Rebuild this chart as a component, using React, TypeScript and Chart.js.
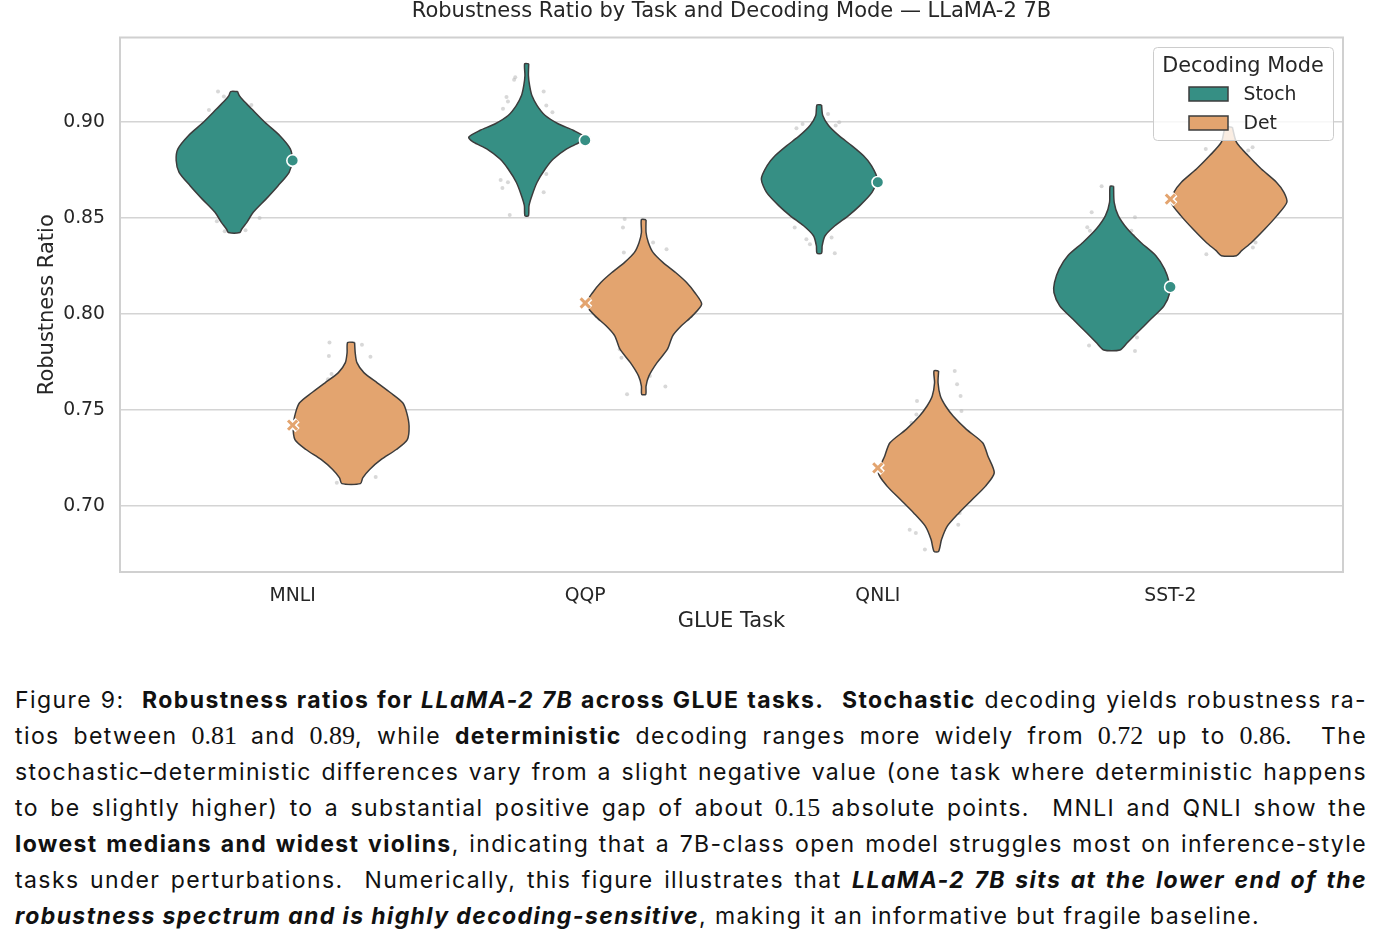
import React, { useEffect, useRef } from "react";
import { Chart, registerables } from "chart.js";

Chart.register(...registerables);

// ---------------- data ----------------
const tasks = ["MNLI", "QQP", "QNLI", "SST-2"];
const modes = ["Stoch", "Det"];
const yTicks = [0.7, 0.75, 0.8, 0.85, 0.9];

// violin density profiles: [value, relative density], top to bottom
const mnliStoch = [[0.916, 0.06], [0.9139, 0.09], [0.9113, 0.16], [0.907, 0.3], [0.9, 0.53], [0.893, 0.79], [0.8861, 0.97], [0.88, 1.0], [0.8739, 0.95], [0.8669, 0.76], [0.8599, 0.55], [0.853, 0.33], [0.8478, 0.22], [0.8442, 0.13], [0.8425, 0.1]];
const mnliDet = [[0.7851, 0.06], [0.7798, 0.07], [0.7746, 0.1], [0.7694, 0.22], [0.7641, 0.45], [0.7589, 0.68], [0.7537, 0.89], [0.7484, 0.96], [0.7415, 1.0], [0.7345, 0.97], [0.7293, 0.78], [0.7241, 0.52], [0.7189, 0.32], [0.7145, 0.2], [0.7115, 0.16]];
const qqpStoch = [[0.9305, 0.035], [0.9244, 0.03], [0.9192, 0.05], [0.9139, 0.09], [0.9087, 0.18], [0.9035, 0.32], [0.8991, 0.55], [0.8957, 0.81], [0.8922, 1.0], [0.8896, 0.92], [0.8861, 0.69], [0.8808, 0.46], [0.8756, 0.32], [0.8687, 0.18], [0.8617, 0.09], [0.8565, 0.04], [0.8512, 0.03]];
const qqpDet = [[0.8492, 0.04], [0.8425, 0.04], [0.8373, 0.08], [0.8321, 0.16], [0.8269, 0.33], [0.8216, 0.55], [0.8164, 0.74], [0.8112, 0.88], [0.8051, 1.0], [0.799, 0.84], [0.7938, 0.65], [0.7886, 0.5], [0.7816, 0.41], [0.7746, 0.23], [0.7677, 0.09], [0.7624, 0.04], [0.7581, 0.035]];
const qnliStoch = [[0.909, 0.04], [0.9035, 0.06], [0.8983, 0.16], [0.893, 0.34], [0.8878, 0.56], [0.8826, 0.76], [0.8774, 0.9], [0.8704, 1.0], [0.8634, 0.91], [0.8565, 0.7], [0.8512, 0.5], [0.846, 0.27], [0.8408, 0.1], [0.8356, 0.05], [0.8317, 0.04]];
const qnliDet = [[0.7703, 0.04], [0.7641, 0.03], [0.7572, 0.07], [0.752, 0.16], [0.7468, 0.29], [0.7398, 0.52], [0.7328, 0.8], [0.7259, 0.89], [0.7171, 1.0], [0.7102, 0.85], [0.7032, 0.62], [0.6962, 0.39], [0.6893, 0.19], [0.6823, 0.09], [0.6762, 0.04]];
const sst2Stoch = [[0.8666, 0.03], [0.8582, 0.04], [0.8513, 0.11], [0.8443, 0.27], [0.8373, 0.5], [0.8304, 0.76], [0.8234, 0.91], [0.8164, 0.99], [0.8112, 1.0], [0.8042, 0.9], [0.7972, 0.67], [0.7903, 0.44], [0.7851, 0.27], [0.7812, 0.14]];
const sst2Det = [[0.8974, 0.06], [0.8896, 0.13], [0.8826, 0.33], [0.8756, 0.56], [0.8687, 0.82], [0.8634, 0.95], [0.8582, 1.0], [0.8513, 0.83], [0.8443, 0.62], [0.8373, 0.39], [0.833, 0.22], [0.8304, 0.13]];

const stochProfiles = [mnliStoch, qqpStoch, qnliStoch, sst2Stoch];
const detProfiles = [mnliDet, qqpDet, qnliDet, sst2Det];

// means (marker per task)
const meanStoch = [0.88, 0.8906, 0.8687, 0.8141];
const meanDet = [0.742, 0.8057, 0.7197, 0.8599];

// jittered sample points [x, value]
const stripStoch = [
  [-0.255, 0.916], [-0.235, 0.9134], [-0.286, 0.9064], [-0.141, 0.909], [-0.113, 0.85], [-0.259, 0.8483], [-0.232, 0.8431], [-0.161, 0.8437],
  [0.761, 0.9235], [0.757, 0.9221], [0.731, 0.9131], [0.736, 0.9108], [0.719, 0.907], [0.867, 0.9087], [0.858, 0.916], [0.888, 0.9052], [0.711, 0.8699], [0.717, 0.8657], [0.736, 0.8687], [0.858, 0.8635], [0.742, 0.8516], [0.867, 0.873],
  [1.722, 0.8969], [1.743, 0.8991], [1.716, 0.8904], [1.83, 0.9043], [1.856, 0.8983], [1.868, 0.9], [1.716, 0.8451], [1.756, 0.839], [1.768, 0.8364], [1.842, 0.8399], [1.853, 0.8317],
  [2.765, 0.8666], [2.731, 0.853], [2.716, 0.8452], [2.725, 0.8434], [2.879, 0.8504], [2.867, 0.8434], [2.873, 0.8408], [2.886, 0.7877], [2.879, 0.7807], [2.722, 0.7836],
];
const stripDet = [
  [0.126, 0.7851], [0.237, 0.7839], [0.124, 0.7781], [0.266, 0.7777], [0.133, 0.7687], [0.121, 0.7659], [0.151, 0.7119], [0.284, 0.7149],
  [1.135, 0.8495], [1.129, 0.8451], [1.132, 0.8321], [1.232, 0.8373], [1.278, 0.8338], [1.118, 0.7816], [1.124, 0.7772], [1.249, 0.7772], [1.221, 0.7677], [1.274, 0.7621], [1.143, 0.7581],
  [2.263, 0.7703], [2.271, 0.7633], [2.283, 0.7572], [2.134, 0.7546], [2.132, 0.7476], [2.115, 0.7433], [2.286, 0.7494], [2.28, 0.6962], [2.275, 0.6901], [2.109, 0.6875], [2.13, 0.6858], [2.161, 0.6771],
  [3.121, 0.8861], [3.266, 0.8852], [3.281, 0.8869], [3.289, 0.8782], [3.123, 0.8312], [3.282, 0.8347], [3.291, 0.8373],
];

// ---------------- styling ----------------
const STOCH = "#368f84";
const DET = "#e3a46f";
const EDGE = "#3c3c3c";
const TEXT = "#262626";
const FONT = "'DejaVu Sans', sans-serif";
const DODGE = 0.2;
const HALF = 0.198;

function violin(profile: number[][], center: number) {
  const right = profile.map(([v, d]) => ({ x: center + HALF * d, y: v }));
  const left = profile
    .slice()
    .reverse()
    .map(([v, d]) => ({ x: center - HALF * d, y: v }));
  return [...right, ...left, right[0]];
}

const framePlugin = {
  id: "frame",
  beforeDatasetsDraw(chart: any) {
    const { ctx, chartArea: a } = chart;
    ctx.save();
    ctx.strokeStyle = "#d0d0d0";
    ctx.lineWidth = 2;
    ctx.strokeRect(a.left, a.top, a.right - a.left, a.bottom - a.top);
    ctx.restore();
  },
};

const legendPlugin = {
  id: "innerLegend",
  afterDraw(chart: any) {
    const { ctx, chartArea: a } = chart;
    const w = 180;
    const h = 93;
    const x = a.right - 10 - w;
    const y = a.top + 9.5;
    ctx.save();
    ctx.beginPath();
    (ctx as any).roundRect(x + 0.5, y + 0.5, w, h, 4);
    ctx.fillStyle = "rgba(255,255,255,0.8)";
    ctx.fill();
    ctx.strokeStyle = "#cccccc";
    ctx.lineWidth = 1;
    ctx.stroke();
    ctx.fillStyle = TEXT;
    ctx.textBaseline = "middle";
    ctx.textAlign = "center";
    ctx.font = `20.8px ${FONT}`;
    ctx.fillText("Decoding Mode", x + w / 2, y + 19.5);
    ctx.textAlign = "left";
    ctx.font = `18.8px ${FONT}`;
    const colors = [STOCH, DET];
    modes.forEach((m, i) => {
      const ry = y + 40 + i * 29;
      ctx.fillStyle = colors[i];
      ctx.fillRect(x + 36, ry, 39, 14);
      ctx.strokeStyle = EDGE;
      ctx.lineWidth = 1.5;
      ctx.strokeRect(x + 36, ry, 39, 14);
      ctx.fillStyle = TEXT;
      ctx.fillText(m, x + 90.5, ry + 8.5);
    });
    ctx.restore();
  },
};

function ChartView() {
  const ref = useRef<HTMLCanvasElement | null>(null);
  useEffect(() => {
    if (!ref.current) return;
    const datasets: any[] = [];
    datasets.push({
      data: stripStoch.concat(stripDet).map(([x, y]) => ({ x, y })),
      pointRadius: 2,
      pointBackgroundColor: "rgba(190,190,190,0.6)",
      pointBorderWidth: 0,
      order: 20,
    });
    tasks.forEach((_, i) => {
      [
        { prof: stochProfiles[i], c: i - DODGE, col: STOCH },
        { prof: detProfiles[i], c: i + DODGE, col: DET },
      ].forEach((v) => {
        datasets.push({
          data: violin(v.prof, v.c),
          showLine: true,
          fill: "shape",
          backgroundColor: v.col,
          borderColor: EDGE,
          borderWidth: 1.5,
          tension: 0.25,
          pointRadius: 0,
          order: 10,
        });
      });
    });
    datasets.push({
      data: meanStoch.map((y, i) => ({ x: i, y })),
      pointStyle: "circle",
      pointRadius: 5.8,
      pointBackgroundColor: STOCH,
      pointBorderColor: "#ffffff",
      pointBorderWidth: 1.6,
      order: 3,
    });
    datasets.push({
      data: meanDet.map((y, i) => ({ x: i, y })),
      pointStyle: "crossRot",
      pointRadius: 7,
      pointBorderColor: "#ffffff",
      pointBorderWidth: 6,
      order: 2,
    });
    datasets.push({
      data: meanDet.map((y, i) => ({ x: i, y })),
      pointStyle: "crossRot",
      pointRadius: 6.5,
      pointBorderColor: DET,
      pointBorderWidth: 3,
      order: 1,
    });

    const chart = new Chart(ref.current, {
      type: "scatter",
      data: { datasets },
      plugins: [framePlugin, legendPlugin],
      options: {
        animation: false,
        responsive: false,
        devicePixelRatio: 1,
        layout: { padding: { left: 0, right: 44, top: 0, bottom: 0 } },
        plugins: {
          legend: { display: false },
          tooltip: { enabled: false },
          title: {
            display: true,
            text: "Robustness Ratio by Task and Decoding Mode \u2014 LLaMA-2 7B",
            fullSize: false,
            color: TEXT,
            font: { family: FONT, size: 21, weight: "normal", lineHeight: 1.0 },
            padding: { top: 1, bottom: 15.5 },
          },
        },
        scales: {
          x: {
            type: "linear",
            min: -0.59,
            max: 3.59,
            afterBuildTicks: (s: any) => {
              s.ticks = tasks.map((_, i) => ({ value: i }));
            },
            afterFit: (s: any) => {
              s.height = 78;
            },
            ticks: {
              callback: (v: any) => tasks[Math.round(Number(v))] ?? "",
              autoSkip: false,
              maxRotation: 0,
              padding: 12.5,
              color: TEXT,
              font: { family: FONT, size: 18.8 },
            },
            grid: { display: false, drawTicks: false },
            border: { display: false },
            title: {
              display: true,
              text: "GLUE Task",
              color: TEXT,
              font: { family: FONT, size: 21 },
              padding: { top: 0, bottom: 15.5 },
            },
          },
          y: {
            type: "linear",
            min: 0.6654,
            max: 0.9442,
            afterBuildTicks: (s: any) => {
              s.ticks = yTicks.map((v) => ({ value: v }));
            },
            afterFit: (s: any) => {
              s.width = 120;
            },
            ticks: {
              callback: (v: any) => Number(v).toFixed(2),
              padding: 15,
              color: TEXT,
              font: { family: FONT, size: 18.8 },
            },
            grid: { color: "#d4d4d4", lineWidth: 1.6, drawTicks: false },
            border: { display: false },
            title: {
              display: true,
              text: "Robustness Ratio",
              color: TEXT,
              font: { family: FONT, size: 21 },
              padding: { top: 35, bottom: 0 },
            },
          },
        },
      } as any,
    });
    return () => chart.destroy();
  }, []);
  return (
    <canvas
      ref={ref}
      width={1387}
      height={650}
      style={{ position: "absolute", left: 0, top: 0, width: 1387, height: 650 }}
    />
  );
}

const M = ({ children }: { children: any }) => (
  <span style={{ fontFamily: "'Liberation Serif', serif", fontSize: 26, letterSpacing: 0 }}>{children}</span>
);
const B = ({ children }: { children: any }) => <b style={{ fontWeight: 700 }}>{children}</b>;
const BI = ({ children }: { children: any }) => (
  <b style={{ fontWeight: 700, fontStyle: "italic" }}>{children}</b>
);

const lineStyle: any = {
  height: 36,
  lineHeight: "36px",
  whiteSpace: "nowrap",
  textAlign: "justify",
  textAlignLast: "justify",
};

export default function App() {
  return (
    <div
      style={{
        position: "absolute",
        left: 0,
        top: 0,
        width: 1387,
        height: 945,
        background: "#ffffff",
        overflow: "hidden",
      }}
    >
      <ChartView />
      <div
        style={{
          position: "absolute",
          left: 15,
          top: 682,
          width: 1352,
          fontFamily: "Inter, sans-serif",
          fontSize: 23,
          letterSpacing: "1.4px",
          color: "#111111",
        }}
      >
        <div style={lineStyle}>
          Figure 9:{"\u00a0 "}
          <B>
            Robustness ratios for <BI>LLaMA-2 7B</BI> across GLUE tasks.
          </B>
          {"\u00a0 "}
          <B>Stochastic</B> decoding yields robustness ra-
        </div>
        <div style={lineStyle}>
          tios between <M>0.81</M> and <M>0.89</M>, while <B>deterministic</B> decoding ranges more widely
          from <M>0.72</M> up to <M>0.86</M>.{"\u00a0 "}The
        </div>
        <div style={lineStyle}>
          stochastic–deterministic differences vary from a slight negative value (one task where deterministic
          happens
        </div>
        <div style={lineStyle}>
          to be slightly higher) to a substantial positive gap of about <M>0.15</M> absolute points.{"\u00a0 "}MNLI
          and QNLI show the
        </div>
        <div style={lineStyle}>
          <B>lowest medians and widest violins</B>, indicating that a 7B-class open model struggles most on
          inference-style
        </div>
        <div style={lineStyle}>
          tasks under perturbations.{"\u00a0 "}Numerically, this figure illustrates that{" "}
          <BI>LLaMA-2 7B sits at the lower end of the</BI>
        </div>
        <div style={{ ...lineStyle, textAlignLast: "left" }}>
          <BI>robustness spectrum and is highly decoding-sensitive</BI>, making it an informative but fragile
          baseline.
        </div>
      </div>
    </div>
  );
}
